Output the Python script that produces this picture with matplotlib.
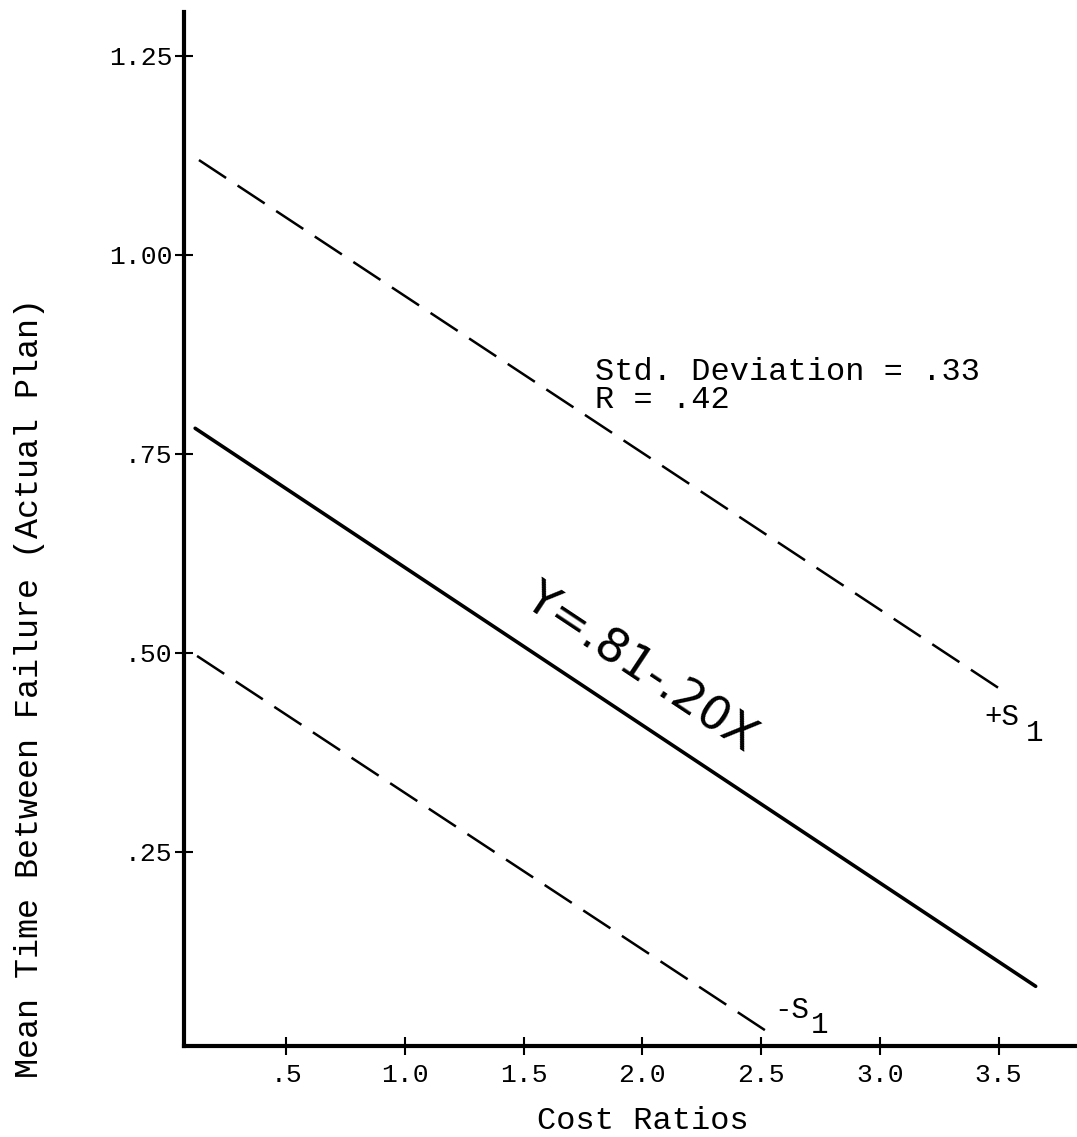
import matplotlib
matplotlib.use("Agg")
import matplotlib.pyplot as plt

# ---- data ----
fit_x = [0.117, 3.656]
fit_y = [0.782, 0.081]
upper_x = [0.133, 3.534]
upper_y = [1.119, 0.449]
lower_x = [0.125, 2.536]
lower_y = [0.496, 0.022]

x_ticks = [0.5, 1.0, 1.5, 2.0, 2.5, 3.0, 3.5]
x_tick_labels = [".5", "1.0", "1.5", "2.0", "2.5", "3.0", "3.5"]
y_ticks = [0.25, 0.50, 0.75, 1.00, 1.25]
y_tick_labels = [".25", ".50", ".75", "1.00", "1.25"]

x_label = "Cost Ratios"
y_label = "Mean Time Between Failure (Actual Plan)"
stats_text = "Std. Deviation = .33\nR = .42"
equation = "Y=.81-.20X"

MONO = "Liberation Mono"

W, H = 1077, 1137
fig = plt.figure(figsize=(W / 100, H / 100), dpi=100)
ax = fig.add_axes([184 / W, 1 - 1046 / H, (W - 184) / W, (1046 - 12) / H])
ax.set_xlim(0.07, 3.83)
ax.set_ylim(0.006, 1.305)

ax.plot(fit_x, fit_y, color="black", lw=2.6, solid_capstyle="round")
ax.plot(upper_x, upper_y, color="black", lw=1.8, dashes=(13, 5.5))
ax.plot(lower_x, lower_y, color="black", lw=1.8, dashes=(13, 5.5))

for s in ["top", "right"]:
    ax.spines[s].set_visible(False)
for s in ["left", "bottom"]:
    ax.spines[s].set_linewidth(3)

ax.set_xticks(x_ticks)
ax.set_xticklabels(x_tick_labels, family=MONO, fontsize=19)
ax.set_yticks(y_ticks)
ax.set_yticklabels(y_tick_labels, family=MONO, fontsize=19)
ax.tick_params(axis="both", direction="inout", length=13, width=1.5, pad=2)
ax.tick_params(axis="x", pad=6)

fig.text(643 / W, 1 - 1121 / H, x_label, family=MONO, fontsize=23,
         ha="center", va="center")
fig.text(30 / W, 1 - 688 / H, y_label, family=MONO, fontsize=24,
         ha="center", va="center", rotation=90)

fig.text(595 / W, 1 - 386 / H, stats_text, family=MONO, fontsize=23,
         ha="left", va="center", linespacing=0.92)

# +S1 and -S1 labels
fig.text(984 / W, 1 - 717 / H, "+S", family=MONO, fontsize=21, ha="left", va="center")
fig.text(1026 / W, 1 - 733 / H, "1", family=MONO, fontsize=21, ha="left", va="center")
fig.text(774 / W, 1 - 1010 / H, "-S", family=MONO, fontsize=21, ha="left", va="center")
fig.text(811 / W, 1 - 1025 / H, "1", family=MONO, fontsize=21, ha="left", va="center")

# handwritten equation along the fit line
fig.text(640 / W, 1 - 668 / H, equation, family="DejaVu Sans", fontsize=34,
         ha="center", va="center", rotation=-33.6, rotation_mode="anchor")

fig.savefig("out.png", dpi=100)
